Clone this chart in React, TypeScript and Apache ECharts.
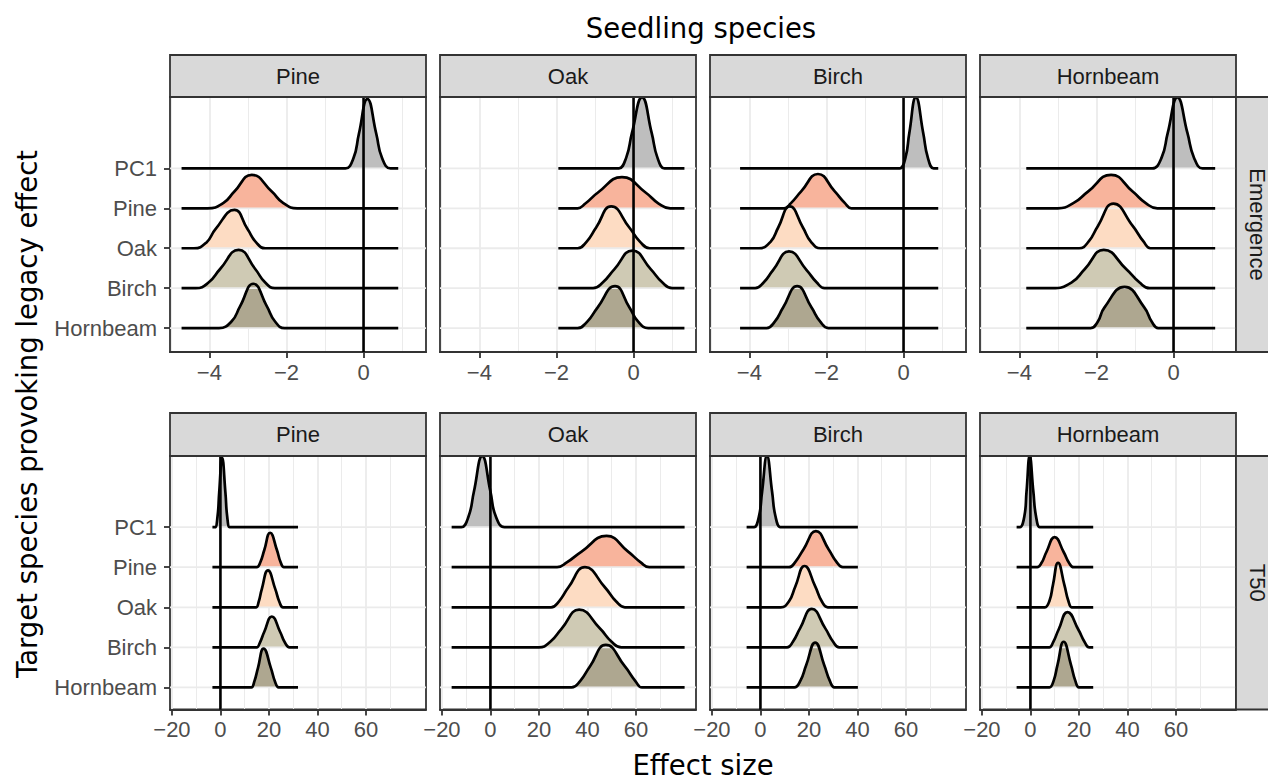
import React, { useEffect, useRef } from "react";
import * as echarts from "echarts";

// ---------- data ----------
const seedlingSpecies = ["Pine", "Oak", "Birch", "Hornbeam"];
// target species, drawn from top (PC1) to bottom (Hornbeam)
const targetSpecies = ["PC1", "Pine", "Oak", "Birch", "Hornbeam"];
const traits = ["Emergence", "T50"];
const targetFills = ["#bebebe", "#f8b49c", "#fddcc3", "#cfcab4", "#aea790"];

const emergenceTicks = [-4, -2, 0];
const t50Ticks = [-20, 0, 20, 40, 60];
const emergenceLimits = [-5.02, 1.62];
const t50Limits = [-20.8, 84.8];

// x-range over which each panel's ridges are drawn
const emergenceSpans = [[-4.72, 0.9], [-1.95, 1.32], [-4.24, 0.9], [-3.82, 1.08]];
const t50Spans = [[-3.3, 32.0], [-16.0, 80.1], [-5.7, 40.2], [-5.7, 25.9]];

// ridge outline key points [effect size, ridge height], order: PC1, Pine, Oak, Birch, Hornbeam
const emergencePine = [
  [[-0.47, 0], [-0.26, 0.26], [-0.12, 0.87], [0.1, 1.74], [0.33, 0.87], [0.48, 0.26], [0.7, 0]],
  [[-4.05, 0], [-3.64, 0.13], [-3.35, 0.42], [-2.9, 0.84], [-2.38, 0.42], [-2.08, 0.13], [-1.72, 0]],
  [[-4.4, 0], [-4.08, 0.14], [-3.84, 0.48], [-3.35, 0.96], [-3.01, 0.48], [-2.78, 0.14], [-2.55, 0]],
  [[-4.35, 0], [-4.02, 0.14], [-3.72, 0.48], [-3.24, 0.96], [-2.81, 0.48], [-2.55, 0.14], [-2.3, 0]],
  [[-3.75, 0], [-3.42, 0.17], [-3.2, 0.55], [-2.86, 1.11], [-2.51, 0.55], [-2.3, 0.17], [-2.05, 0]],
];
const emergenceOak = [
  [[-0.38, 0], [-0.19, 0.27], [-0.04, 0.89], [0.22, 1.78], [0.47, 0.89], [0.62, 0.27], [0.8, 0]],
  [[-1.45, 0], [-1.25, 0.12], [-0.93, 0.39], [-0.3, 0.78], [0.32, 0.39], [0.65, 0.12], [0.95, 0]],
  [[-1.45, 0], [-1.22, 0.16], [-0.97, 0.52], [-0.58, 1.05], [-0.11, 0.52], [0.17, 0.16], [0.42, 0]],
  [[-1.05, 0], [-0.8, 0.14], [-0.5, 0.47], [-0.03, 0.94], [0.45, 0.47], [0.75, 0.14], [1.0, 0]],
  [[-1.45, 0], [-1.2, 0.16], [-0.93, 0.52], [-0.48, 1.05], [-0.11, 0.52], [0.12, 0.16], [0.38, 0]],
];
const emergenceBirch = [
  [[-0.1, 0], [0.05, 0.27], [0.15, 0.89], [0.32, 1.78], [0.51, 0.89], [0.63, 0.27], [0.78, 0]],
  [[-3.1, 0], [-2.92, 0.13], [-2.65, 0.43], [-2.22, 0.86], [-1.79, 0.43], [-1.52, 0.13], [-1.35, 0]],
  [[-3.75, 0], [-3.45, 0.16], [-3.25, 0.52], [-2.95, 1.05], [-2.61, 0.52], [-2.4, 0.16], [-2.15, 0]],
  [[-3.85, 0], [-3.63, 0.14], [-3.38, 0.46], [-2.97, 0.92], [-2.52, 0.46], [-2.25, 0.14], [-2.05, 0]],
  [[-3.55, 0], [-3.34, 0.16], [-3.12, 0.52], [-2.76, 1.05], [-2.39, 0.52], [-2.16, 0.16], [-1.95, 0]],
];
const emergenceHornbeam = [
  [[-0.55, 0], [-0.31, 0.27], [-0.15, 0.89], [0.1, 1.78], [0.36, 0.89], [0.53, 0.27], [0.75, 0]],
  [[-3.0, 0], [-2.6, 0.13], [-2.22, 0.42], [-1.62, 0.84], [-1.06, 0.42], [-0.72, 0.13], [-0.42, 0]],
  [[-2.45, 0], [-2.2, 0.17], [-1.96, 0.56], [-1.56, 1.12], [-1.06, 0.56], [-0.78, 0.17], [-0.6, 0]],
  [[-3.15, 0], [-2.65, 0.14], [-2.3, 0.48], [-1.81, 0.96], [-1.23, 0.48], [-0.88, 0.14], [-0.62, 0]],
  [[-2.15, 0], [-1.97, 0.15], [-1.79, 0.52], [-1.27, 1.03], [-0.76, 0.52], [-0.56, 0.15], [-0.4, 0]],
];
const t50Pine = [
  [[-2.2, 0], [-1.2, 0.26], [-0.5, 0.87], [0.7, 1.73], [2.05, 0.87], [2.8, 0.26], [3.8, 0]],
  [[15.0, 0], [16.5, 0.13], [18.1, 0.43], [20.5, 0.86], [23.3, 0.43], [24.8, 0.13], [26.2, 0]],
  [[14.8, 0], [15.8, 0.14], [17.1, 0.46], [19.6, 0.92], [22.6, 0.46], [24.3, 0.14], [25.8, 0]],
  [[15.0, 0], [16.3, 0.12], [18.1, 0.39], [21.2, 0.77], [24.6, 0.39], [26.6, 0.12], [28.5, 0]],
  [[12.8, 0], [14.0, 0.15], [15.5, 0.49], [17.8, 0.97], [20.8, 0.49], [22.5, 0.15], [24.0, 0]],
];
const t50Oak = [
  [[-12.0, 0], [-9.0, 0.27], [-6.8, 0.89], [-3.4, 1.77], [0.0, 0.89], [2.2, 0.27], [5.8, 0]],
  [[27.5, 0], [31.5, 0.12], [37.6, 0.39], [47.9, 0.78], [56.8, 0.39], [62.0, 0.12], [65.5, 0]],
  [[25.0, 0], [28.3, 0.15], [32.2, 0.5], [39.0, 1.0], [47.2, 0.5], [51.8, 0.15], [55.5, 0]],
  [[20.0, 0], [24.7, 0.14], [29.4, 0.47], [36.6, 0.94], [45.2, 0.47], [50.0, 0.14], [54.0, 0]],
  [[33.5, 0], [37.0, 0.16], [41.1, 0.53], [47.6, 1.06], [55.4, 0.53], [59.8, 0.16], [62.5, 0]],
];
const t50Birch = [
  [[-2.6, 0], [-0.6, 0.27], [0.7, 0.89], [2.7, 1.77], [4.8, 0.89], [6.2, 0.27], [8.2, 0]],
  [[11.8, 0], [14.5, 0.14], [17.8, 0.45], [22.9, 0.9], [28.1, 0.45], [31.3, 0.14], [34.0, 0]],
  [[8.4, 0], [11.8, 0.15], [14.4, 0.52], [18.2, 1.03], [22.6, 0.52], [25.3, 0.15], [27.8, 0]],
  [[11.0, 0], [13.4, 0.14], [16.4, 0.48], [21.2, 0.96], [26.7, 0.48], [30.0, 0.14], [32.5, 0]],
  [[14.0, 0], [16.5, 0.17], [18.9, 0.56], [22.6, 1.12], [26.3, 0.56], [28.6, 0.17], [30.5, 0]],
];
const t50Hornbeam = [
  [[-4.3, 0], [-2.5, 0.27], [-1.6, 0.89], [-0.3, 1.77], [1.2, 0.89], [2.3, 0.27], [3.8, 0]],
  [[2.8, 0], [4.6, 0.11], [6.6, 0.38], [10.0, 0.75], [13.7, 0.38], [15.9, 0.11], [17.8, 0]],
  [[6.0, 0], [7.9, 0.17], [9.3, 0.56], [11.4, 1.11], [14.0, 0.56], [15.6, 0.17], [17.0, 0]],
  [[7.8, 0], [9.4, 0.13], [11.6, 0.44], [15.3, 0.88], [19.8, 0.44], [22.4, 0.13], [24.3, 0]],
  [[7.9, 0], [9.6, 0.17], [11.2, 0.57], [13.7, 1.14], [16.7, 0.57], [18.5, 0.17], [20.0, 0]],
];

// ---------- layout ----------
const colLeft = [170, 440, 710, 980];
const panelW = 256;
const rowTop = [97, 456];
const rowH = [255, 253.5];
const stripTop = [55, 413];
const stripH = [42, 43];
const yLimits = [[0.4, 6.79], [0.45, 6.775]];

const TICK_FONT = "Liberation Sans, Arial, sans-serif";
const TITLE_FONT = "DejaVu Sans, Verdana, sans-serif";
const TICK_SIZE = 22;
const TITLE_SIZE = 27.5;

const fmt = (v: number) => (v < 0 ? "\u2212" + Math.abs(v) : String(v));

function buildOption() {
  const ridgeTable = [
    [emergencePine, emergenceOak, emergenceBirch, emergenceHornbeam],
    [t50Pine, t50Oak, t50Birch, t50Hornbeam],
  ];
  const spanTable = [emergenceSpans, t50Spans];
  const grids: any[] = [];
  const xAxes: any[] = [];
  const yAxes: any[] = [];
  const series: any[] = [];
  const graphic: any[] = [];
  const nT = targetSpecies.length;
  const yVals = targetSpecies.map((_, i) => i + 1);

  traits.forEach((trait, r) => {
    const limits = r === 0 ? emergenceLimits : t50Limits;
    const ticks = r === 0 ? emergenceTicks : t50Ticks;
    const yLim = yLimits[r];
    seedlingSpecies.forEach((sp, c) => {
      const p = r * 4 + c;
      grids.push({
        left: colLeft[c],
        top: rowTop[r],
        width: panelW,
        height: rowH[r],
        show: true,
        backgroundColor: "#ffffff",
        borderColor: "#333333",
        borderWidth: 1.8,
        containLabel: false,
      });
      xAxes.push({
        type: "value",
        gridIndex: p,
        min: limits[0],
        max: limits[1],
        splitNumber: r === 0 ? 3 : 5,
        axisLine: { show: true, onZero: false, lineStyle: { color: "#333333", width: 1.8 } },
        axisTick: { show: true, length: 6, customValues: ticks, lineStyle: { color: "#333333", width: 1.8 } },
        axisLabel: {
          show: true,
          customValues: ticks,
          formatter: (v: number) => (ticks.indexOf(v) >= 0 ? fmt(v) : ""),
          color: "#4d4d4d",
          fontSize: TICK_SIZE,
          fontFamily: TICK_FONT,
          margin: 9,
        },
        splitLine: { show: true, lineStyle: { color: "#ebebeb", width: 1.8 } },
        minorTick: { show: false, splitNumber: 2 },
        minorSplitLine: { show: true, lineStyle: { color: "#ebebeb", width: 1.0 } },
      });
      // main (labelled) y axis of this panel
      const mainY = yAxes.length;
      yAxes.push({
        type: "value",
        gridIndex: p,
        min: yLim[0],
        max: yLim[1],
        axisLine: { show: false, onZero: false },
        splitLine: { show: false },
        axisTick: {
          show: c === 0,
          length: 6,
          customValues: yVals,
          lineStyle: { color: "#333333", width: 1.8 },
        },
        axisLabel: {
          show: c === 0,
          customValues: yVals,
          formatter: (v: number) => {
            const k = Math.round(v);
            if (Math.abs(v - k) > 1e-6 || k < 1 || k > nT) return "";
            return targetSpecies[nT - k];
          },
          color: "#4d4d4d",
          fontSize: TICK_SIZE,
          fontFamily: TICK_FONT,
          margin: 13,
        },
      });

      // horizontal grid lines at each ridge baseline
      yVals.forEach((k) => {
        series.push({
          type: "line",
          xAxisIndex: p,
          yAxisIndex: mainY,
          data: [[limits[0], k], [limits[1], k]],
          symbol: "none",
          silent: true,
          lineStyle: { color: "#ebebeb", width: 1.8 },
          z: 2,
        });
      });

      // ridges, from top (PC1) to bottom (Hornbeam); each ridge gets a hidden y axis
      // shifted so that its baseline is the axis zero (area fills down to it)
      const ridges = ridgeTable[r][c];
      const span = spanTable[r][c];
      const e = 0.012 * (span[1] - span[0]);
      ridges.forEach((pts: number[][], i: number) => {
        const baseline = nT - i;
        const ax = yAxes.length;
        yAxes.push({
          type: "value",
          gridIndex: p,
          show: false,
          min: yLim[0] - baseline,
          max: yLim[1] - baseline,
          axisLine: { show: false, onZero: false },
          splitLine: { show: false },
          axisTick: { show: false },
          axisLabel: { show: false },
        });
        const full = [
          [span[0], 0],
          [pts[0][0] - e, 0],
          ...pts,
          [pts[pts.length - 1][0] + e, 0],
          [span[1], 0],
        ];
        series.push({
          type: "line",
          xAxisIndex: p,
          yAxisIndex: ax,
          data: full,
          symbol: "none",
          smooth: 0.5,
          silent: true,
          lineStyle: { color: "#000000", width: 2.7 },
          areaStyle: { color: targetFills[i], opacity: 1, origin: "auto" },
          z: 2,
        });
      });

      // vertical reference line at zero
      series.push({
        type: "line",
        xAxisIndex: p,
        yAxisIndex: mainY,
        data: [[0, yLim[0]], [0, yLim[1]]],
        symbol: "none",
        silent: true,
        lineStyle: { color: "#000000", width: 2.6 },
        z: 3,
      });

      // column strip
      graphic.push({
        type: "rect",
        shape: { x: colLeft[c], y: stripTop[r], width: panelW, height: stripH[r] },
        style: { fill: "#d9d9d9", stroke: "#333333", lineWidth: 1.8 },
        z: 10,
      });
      graphic.push({
        type: "text",
        x: colLeft[c] + panelW / 2,
        y: stripTop[r] + stripH[r] / 2,
        style: {
          text: sp,
          fill: "#1a1a1a",
          fontSize: TICK_SIZE,
          fontFamily: TICK_FONT,
          align: "center",
          verticalAlign: "middle",
        },
        z: 11,
      });
    });

    // row strip on the right
    graphic.push({
      type: "rect",
      shape: { x: 1236, y: rowTop[r], width: 42, height: rowH[r] },
      style: { fill: "#d9d9d9", stroke: "#333333", lineWidth: 1.8 },
      z: 10,
    });
    graphic.push({
      type: "text",
      x: 1257,
      y: rowTop[r] + rowH[r] / 2,
      rotation: -Math.PI / 2,
      style: {
        text: trait,
        fill: "#1a1a1a",
        fontSize: TICK_SIZE,
        fontFamily: TICK_FONT,
        align: "center",
        verticalAlign: "middle",
      },
      z: 11,
    });
  });

  // titles
  graphic.push({
    type: "text",
    x: 701,
    y: 28,
    style: { text: "Seedling species", fill: "#000000", fontSize: TITLE_SIZE, fontFamily: TITLE_FONT, align: "center", verticalAlign: "middle" },
    z: 11,
  });
  graphic.push({
    type: "text",
    x: 703,
    y: 765,
    style: { text: "Effect size", fill: "#000000", fontSize: TITLE_SIZE, fontFamily: TITLE_FONT, align: "center", verticalAlign: "middle" },
    z: 11,
  });
  graphic.push({
    type: "text",
    x: 27,
    y: 414,
    rotation: Math.PI / 2,
    style: {
      text: "Target species provoking legacy effect",
      fill: "#000000",
      fontSize: TITLE_SIZE,
      fontFamily: TITLE_FONT,
      align: "center",
      verticalAlign: "middle",
    },
    z: 11,
  });

  return {
    animation: false,
    backgroundColor: "#ffffff",
    grid: grids,
    xAxis: xAxes,
    yAxis: yAxes,
    series,
    graphic,
  };
}

export default function App() {
  const ref = useRef<HTMLDivElement>(null);
  useEffect(() => {
    document.body.style.margin = "0";
    const chart = echarts.init(ref.current as HTMLDivElement, null, { renderer: "svg" });
    chart.setOption(buildOption() as any);
    return () => chart.dispose();
  }, []);
  return <div ref={ref} style={{ width: 1268, height: 781 }} />;
}
